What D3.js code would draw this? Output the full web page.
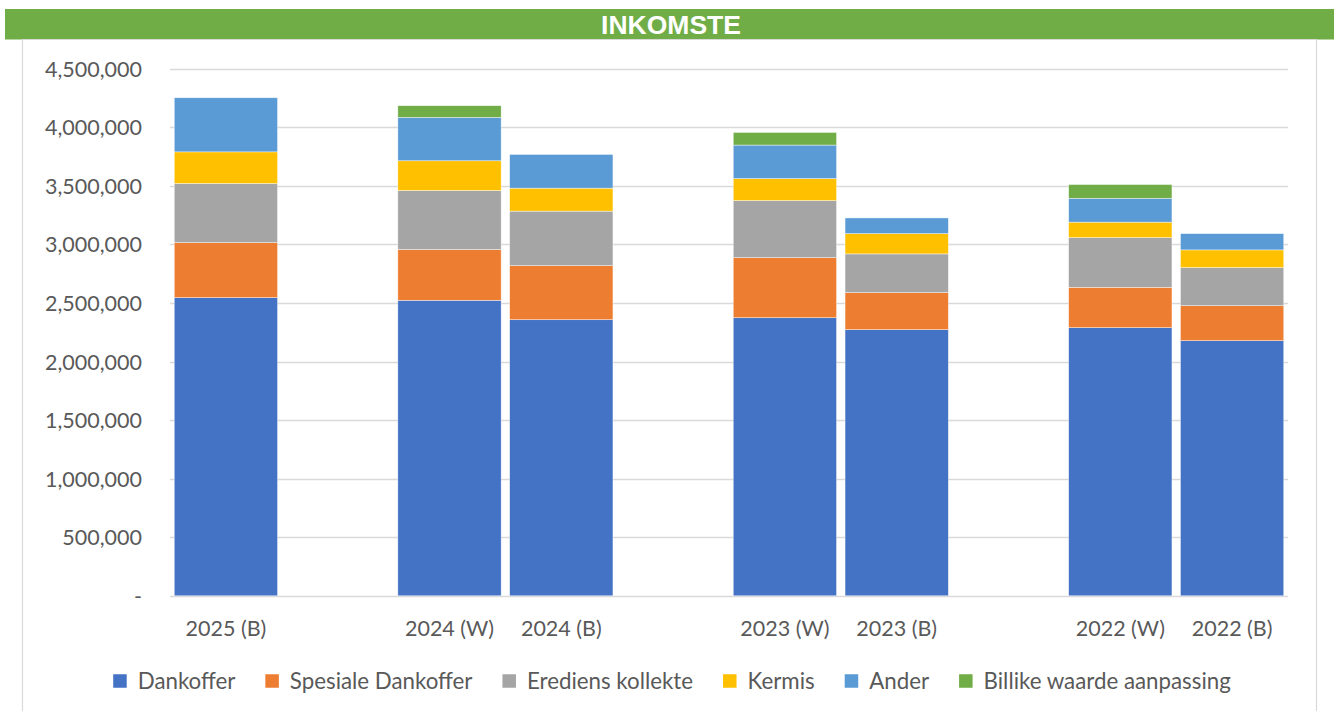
<!DOCTYPE html>
<html>
<head>
<meta charset="utf-8">
<script src="https://cdn.jsdelivr.net/npm/d3@7"></script>
<style>
  html, body { margin: 0; padding: 0; background: #fff; }
  svg { display: block; }
</style>
</head>
<body>
<svg id="chart" width="1334" height="711"></svg>
<script>
// ---- Data ----
const title = "INKOMSTE";
const categories = ["2025 (B)", "", "2024 (W)", "2024 (B)", "", "2023 (W)", "2023 (B)", "", "2022 (W)", "2022 (B)"];
const seriesNames = ["Dankoffer", "Spesiale Dankoffer", "Erediens kollekte", "Kermis", "Ander", "Billike waarde aanpassing"];
const dankoffer = [2545000, null, 2523000, 2357000, null, 2374000, 2272000, null, 2289000, 2178000];
const spesialeDankoffer = [470000, null, 433000, 462000, null, 513000, 316000, null, 345000, 299000];
const erediensKollekte = [505000, null, 504000, 465000, null, 487000, 331000, null, 424000, 325000];
const kermis = [270000, null, 254000, 196000, null, 188000, 173000, null, 132000, 151000];
const ander = [462000, null, 370000, 288000, null, 286000, 134000, null, 204000, 139000];
const billikeWaarde = [0, null, 100000, 0, null, 108000, 0, null, 117000, 0];
const yTicks = [0, 500000, 1000000, 1500000, 2000000, 2500000, 3000000, 3500000, 4000000, 4500000];
const colors = ["#4472C4", "#ED7D31", "#A5A5A5", "#FFC000", "#5B9BD5", "#70AD47"];

const seriesValues = [dankoffer, spesialeDankoffer, erediensKollekte, kermis, ander, billikeWaarde];

// ---- Build table ----
const table = categories.map((c, i) => {
  const row = { idx: i, cat: c };
  seriesNames.forEach((s, k) => { row[s] = seriesValues[k][i] || 0; });
  return row;
});
const stacked = d3.stack().keys(seriesNames)(table);

const svg = d3.select("#chart");
const font = "Lato, 'Open Sans', sans-serif";
const textColor = "#595959";

// Title band
svg.append("rect").attr("x", 5).attr("y", 9).attr("width", 1329).attr("height", 30.5).attr("fill", "#70AD47");
svg.append("text").attr("x", 671).attr("y", 33.5).attr("text-anchor", "middle")
  .attr("font-family", "'Liberation Sans', Arial, sans-serif").attr("font-weight", "bold")
  .attr("font-size", 26.5).attr("fill", "#fff").text(title);

// Chart frame
svg.append("path").attr("d", "M22.5,711 V39.5 H1316.5 V711")
  .attr("fill", "none").attr("stroke", "#d9d9d9").attr("stroke-width", 1.2);

// Scales
const x = d3.scaleBand().domain(d3.range(categories.length)).range([170, 1288])
  .paddingInner(0.076).paddingOuter(0.038);
const y = d3.scaleLinear().domain([0, 4500000]).range([595.8, 68.7]);

// Gridlines
const grid = svg.append("g");
grid.selectAll("line").data(yTicks).join("line")
  .attr("x1", 170).attr("x2", 1288)
  .attr("y1", d => Math.round(y(d)) + 0.5).attr("y2", d => Math.round(y(d)) + 0.5)
  .attr("stroke", "#d9d9d9").attr("stroke-width", 1.5);

// Y axis
const yAxis = svg.append("g").attr("transform", "translate(142,0)")
  .call(d3.axisLeft(y).tickValues(yTicks).tickSize(0).tickPadding(0)
    .tickFormat(d => d === 0 ? "-" : d3.format(",")(d)));
yAxis.select(".domain").remove();
yAxis.selectAll("text").attr("font-family", font).attr("font-size", 21.5).attr("fill", textColor)
  .attr("dy", "0.35em");

// Bars
svg.append("g").selectAll("g").data(stacked).join("g")
  .attr("fill", (d, i) => colors[i])
  .selectAll("rect").data(d => d.filter(p => p[1] - p[0] > 0)).join("rect")
  .attr("x", d => x(d.data.idx))
  .attr("width", x.bandwidth())
  .attr("y", d => y(d[1]))
  .attr("height", d => y(d[0]) - y(d[1]))
  .attr("stroke", "#ffffff").attr("stroke-width", 0.6).attr("stroke-opacity", 0.7);

// X axis
const xAxis = svg.append("g").attr("transform", "translate(0,628)")
  .call(d3.axisBottom(x).tickSize(0).tickPadding(0).tickFormat(i => categories[i]));
xAxis.select(".domain").remove();
xAxis.selectAll("text").attr("font-family", font).attr("font-size", 21.5).attr("fill", textColor)
  .attr("dy", "0.35em");

// Legend
const legend = svg.append("g");
const items = legend.selectAll("g").data(seriesNames).join("g");
items.append("rect").attr("width", 13.5).attr("height", 13.5).attr("y", -6.75)
  .attr("fill", (d, i) => colors[i]);
items.append("text").attr("x", 24.5).attr("dy", "0.35em")
  .attr("font-family", font).attr("font-size", 22.3).attr("fill", textColor).text(d => d);
const widths = [];
items.each(function () {
  const w = d3.select(this).select("text").node().getComputedTextLength();
  widths.push(24.5 + w);
});
const gap = 30;
const total = d3.sum(widths) + gap * (widths.length - 1);
let start = 672 - total / 2;
items.attr("transform", (d, i) => {
  const tx = start;
  start += widths[i] + gap;
  return `translate(${tx},681)`;
});
</script>
</body>
</html>
